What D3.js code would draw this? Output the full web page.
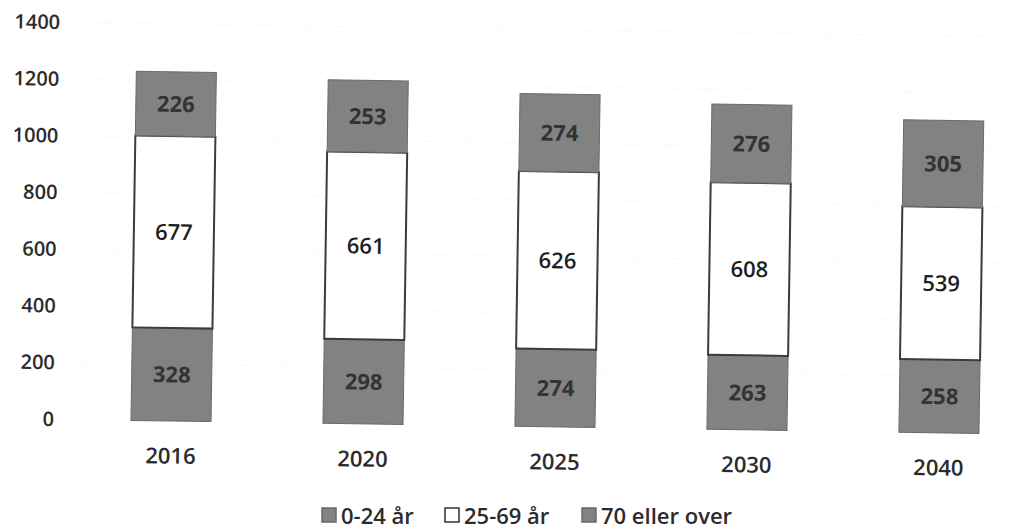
<!DOCTYPE html>
<html lang="no">
<head>
<meta charset="UTF-8">
<title>Befolkning</title>
<script src="https://cdn.jsdelivr.net/npm/d3@7"></script>
<style>
  html, body { margin: 0; padding: 0; background: #fff; }
  svg { display: block; font-family: "Open Sans", sans-serif; }
</style>
</head>
<body>
<div id="chart"></div>
<script>
// values
const years = ["2016", "2020", "2025", "2030", "2040"];
const young = [328, 298, 274, 263, 258];     // 0-24 år
const middle = [677, 661, 626, 608, 539];    // 25-69 år
const old = [226, 253, 274, 276, 305];       // 70 eller over
const yTicks = [0, 200, 400, 600, 800, 1000, 1200, 1400];
const seriesNames = ["0-24 år", "25-69 år", "70 eller over"];

const W = 1011, H = 529;
const svg = d3.select("#chart").append("svg")
  .attr("width", W)
  .attr("height", H);

const rows = years.map((y, i) => ({year: y, "0-24 år": young[i], "25-69 år": middle[i], "70 eller over": old[i]}));
const stacked = d3.stack().keys(seriesNames)(rows);

const x = d3.scaleBand().domain(years).range([75, 1035]).paddingInner(0.583).paddingOuter(0.2915);
const y = d3.scaleLinear().domain([0, 1400]).range([421, 24]);

const fills = {"0-24 år": "#828282", "25-69 år": "#ffffff", "70 eller over": "#828282"};
const strokes = {"0-24 år": "#6a6a6a", "25-69 år": "#3c3c3c", "70 eller over": "#6a6a6a"};

// the scan is tilted a little, so the plot is turned slightly around the first bar's foot
const g = svg.append("g").attr("transform", "rotate(0.88,171,421)");

// faint grid
g.append("g").selectAll("line")
  .data(yTicks.slice(1))
  .enter().append("line")
  .attr("x1", 80).attr("x2", 1000)
  .attr("y1", d => y(d)).attr("y2", d => y(d))
  .attr("stroke", "#f6f6f6")
  .attr("stroke-dasharray", "6,4");

// y axis labels
const yAxis = g.append("g")
  .attr("transform", "translate(54,0)")
  .call(d3.axisLeft(y).tickValues(yTicks).tickFormat(d3.format("d")).tickSize(0).tickPadding(0));
yAxis.select(".domain").remove();
yAxis.selectAll("text")
  .attr("font-family", "Open Sans, sans-serif")
  .attr("font-size", 20)
  .attr("font-weight", 600)
  .attr("fill", "#2b2b2b");

// x axis labels
const xAxis = g.append("g")
  .attr("transform", "translate(0,448)")
  .call(d3.axisBottom(x).tickSize(0).tickPadding(0));
xAxis.select(".domain").remove();
xAxis.selectAll("text")
  .attr("font-family", "Open Sans, sans-serif")
  .attr("font-size", 22)
  .attr("font-weight", 600)
  .attr("fill", "#2b2b2b");

// bars
const layers = g.append("g").selectAll("g")
  .data(stacked)
  .enter().append("g");

layers.selectAll("rect")
  .data(d => d.map(v => ({key: d.key, v})))
  .enter().append("rect")
  .attr("x", d => x(d.v.data.year))
  .attr("width", x.bandwidth())
  .attr("y", d => y(d.v[1]))
  .attr("height", d => y(d.v[0]) - y(d.v[1]))
  .attr("fill", d => fills[d.key])
  .attr("stroke", d => strokes[d.key])
  .attr("stroke-width", d => d.key === "25-69 år" ? 2 : 1);

layers.selectAll("text")
  .data(d => d.map(v => ({key: d.key, v})))
  .enter().append("text")
  .attr("x", d => x(d.v.data.year) + x.bandwidth() / 2)
  .attr("y", d => (y(d.v[0]) + y(d.v[1])) / 2)
  .attr("dy", "0.36em")
  .attr("text-anchor", "middle")
  .attr("font-size", 22)
  .attr("font-weight", d => d.key === "25-69 år" ? 600 : 700)
  .attr("fill", d => d.key === "25-69 år" ? "#1e1e1e" : "#333333")
  .text(d => d.v[1] - d.v[0]);

// legend
const legendX = [322, 445, 582];
const legend = svg.append("g").selectAll("g")
  .data(seriesNames)
  .enter().append("g")
  .attr("transform", (d, i) => `translate(${legendX[i]},508)`);
legend.append("rect")
  .attr("width", 14).attr("height", 14)
  .attr("fill", d => fills[d])
  .attr("stroke", d => d === "25-69 år" ? "#333" : "#6a6a6a")
  .attr("stroke-width", 1.5);
legend.append("text")
  .attr("x", 19)
  .attr("y", 8)
  .attr("dy", "0.36em")
  .attr("font-size", 22)
  .attr("font-weight", 600)
  .attr("fill", "#2b2b2b")
  .text(d => d);
</script>
</body>
</html>
